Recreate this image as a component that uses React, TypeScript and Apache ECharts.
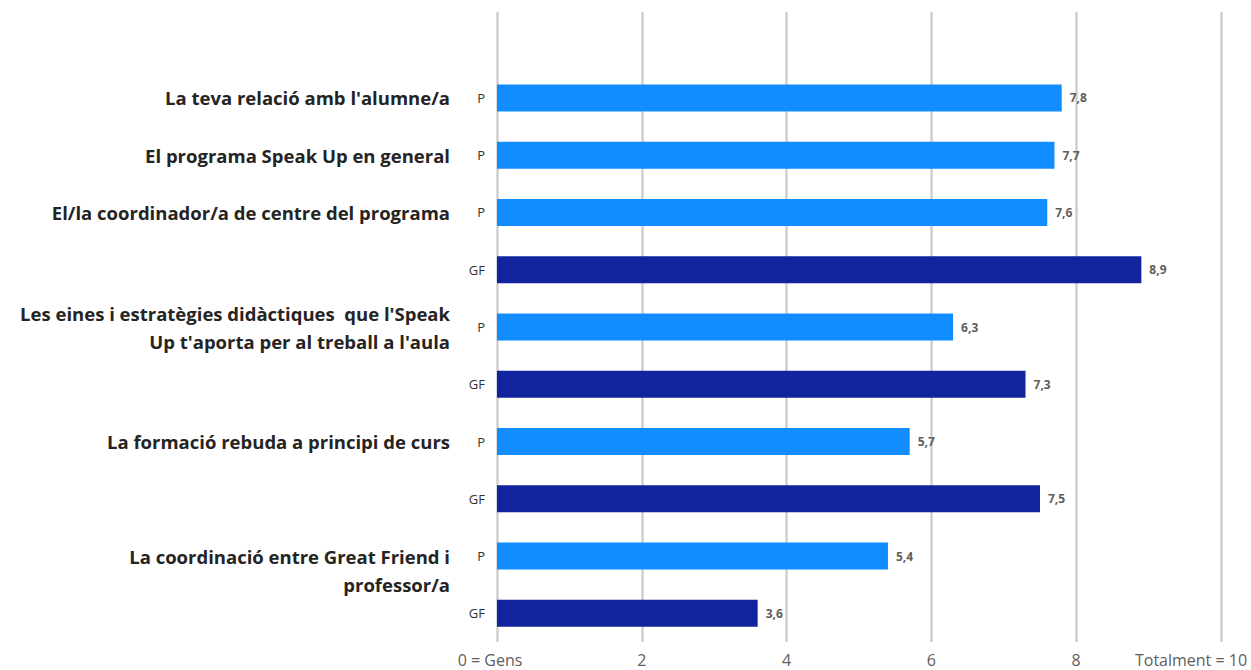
import React, { useEffect, useRef } from "react";
import * as echarts from "echarts";

const rowKeys = ["r0", "r1", "r2", "r3", "r4", "r5", "r6", "r7", "r8", "r9", "r10"];
const rowTypes = ["", "P", "P", "P", "GF", "P", "GF", "P", "GF", "P", "GF"];
const values: (number | null)[] = [null, 7.8, 7.7, 7.6, 8.9, 6.3, 7.3, 5.7, 7.5, 5.4, 3.6];
const groupLabels = [
  "",
  "La teva relació amb l'alumne/a",
  "El programa Speak Up en general",
  "El/la coordinador/a de centre del programa",
  "",
  "Les eines i estratègies didàctiques  que l'Speak\nUp t'aporta per al treball a l'aula",
  "",
  "La formació rebuda a principi de curs",
  "",
  "\nLa coordinació entre Great Friend i\nprofessor/a",
  "",
];
const tickLabels: Record<number, string> = { 0: "0 = Gens", 2: "2", 4: "4", 6: "6", 8: "8", 10: "Totalment = 10" };
const typeColors: Record<string, string> = { P: "#118DFF", GF: "#12239E" };

export default function App() {
  const ref = useRef<HTMLDivElement>(null);
  useEffect(() => {
    document.body.style.margin = "0";
    if (!ref.current) return;
    const chart = echarts.init(ref.current, null, { renderer: "svg" });
    chart.setOption({
      animation: false,
      backgroundColor: "#ffffff",
      grid: { left: 497, right: 30, top: 12, bottom: 28, containLabel: false },
      xAxis: {
        type: "value",
        min: 0,
        max: 10,
        interval: 2,
        axisLine: { show: false },
        axisTick: { show: false },
        splitLine: { show: true, lineStyle: { color: "#CFCFCF", width: 2.5 } },
        axisLabel: {
          margin: 10,
          color: "#605E5C",
          fontFamily: "Open Sans",
          fontSize: 16,
          formatter: (v: number) => {
            if (v === 0) return "{min|" + tickLabels[0] + "}";
            if (v === 10) return "{max|" + tickLabels[10] + "}";
            return tickLabels[v] ?? String(v);
          },
          rich: {
            min: { color: "#605E5C", fontFamily: "Open Sans", fontSize: 16, padding: [0, 14, 0, 0] },
            max: { color: "#605E5C", fontFamily: "Open Sans", fontSize: 16, padding: [0, 60, 0, 0] },
          },
        },
      },
      yAxis: [
        {
          type: "category",
          inverse: true,
          data: rowKeys,
          axisLine: { show: false },
          axisTick: { show: false },
          splitLine: { show: false },
          axisLabel: {
            margin: 12,
            color: "#333333",
            fontFamily: "Open Sans",
            fontSize: 13,
            interval: 0,
            formatter: (_v: string, i: number) => rowTypes[i],
          },
        },
        {
          type: "category",
          inverse: true,
          position: "left",
          data: rowKeys,
          axisLine: { show: false },
          axisTick: { show: false },
          splitLine: { show: false },
          axisLabel: {
            margin: 47,
            color: "#252423",
            fontFamily: "Open Sans",
            fontWeight: "bold",
            fontSize: 18.5,
            lineHeight: 28,
            align: "right",
            interval: 0,
            formatter: (_v: string, i: number) => groupLabels[i],
          },
        },
      ],
      series: [
        {
          type: "bar",
          yAxisIndex: 0,
          barWidth: 27,
          data: values.map((v, i) => ({
            value: v,
            itemStyle: { color: typeColors[rowTypes[i]] || "#118DFF" },
          })),
          label: {
            show: true,
            position: "right",
            distance: 8,
            color: "#605E5C",
            fontFamily: "Open Sans",
            fontWeight: "bold",
            fontSize: 12,
            formatter: (p: any) => (p.value == null ? "" : String(p.value).replace(".", ",")),
          },
        },
      ],
    });
    return () => chart.dispose();
  }, []);
  return <div ref={ref} style={{ width: 1251, height: 670 }} />;
}
